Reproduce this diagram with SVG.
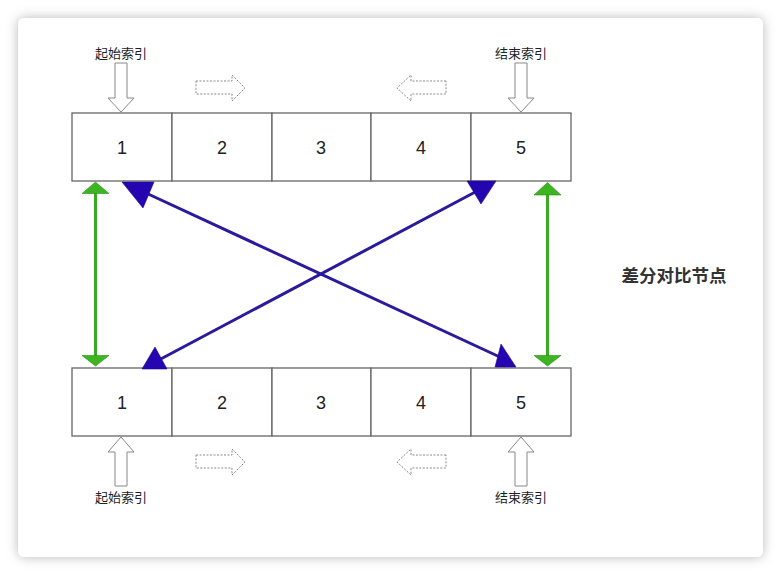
<svg xmlns="http://www.w3.org/2000/svg" width="781" height="575" viewBox="0 0 781 575">
  <defs>
    <filter id="shadow" x="-10%" y="-10%" width="120%" height="120%">
      <feDropShadow dx="0" dy="0" stdDeviation="6" flood-color="#000" flood-opacity="0.28"/>
    </filter>
    <style>
      .cell { fill: #ffffff; stroke: #666666; stroke-width: 1.3; }
      .num { font-family: "Liberation Sans", Arial, sans-serif; font-size: 18px; fill: #222222; text-anchor: middle; }
      .lbl { font-family: "Liberation Sans", "Noto Sans CJK SC", sans-serif; font-size: 13px; fill: #222222; text-anchor: middle; }
      .title { font-family: "Liberation Sans", "Noto Sans CJK SC", sans-serif; font-size: 17.5px; font-weight: bold; fill: #333333; text-anchor: middle; }
      .hollow { fill: #ffffff; stroke: #888888; stroke-width: 1; }
      .dashed { fill: #ffffff; stroke: #8a8a8a; stroke-width: 1; stroke-dasharray: 2 1.5; }
      .gline { stroke: #3aaa22; stroke-width: 3; fill: none; }
      .ghead { fill: #3db521; stroke: #2e8c1a; stroke-width: 0.6; }
      .bline { stroke: #2a1a9c; stroke-width: 3; fill: none; }
      .bhead { fill: #2405b0; stroke: #1e0a90; stroke-width: 0.6; }
    </style>
  </defs>
  <rect x="0" y="0" width="781" height="575" fill="#ffffff"/>
  <rect x="18" y="18" width="745" height="539" rx="6" fill="#ffffff" filter="url(#shadow)"/>

  <g id="top-row">
    <g id="t1"><rect class="cell" x="72" y="113" width="100" height="68"/><text class="num" x="122" y="154">1</text></g>
    <g id="t2"><rect class="cell" x="172" y="113" width="100" height="68"/><text class="num" x="222" y="154">2</text></g>
    <g id="t3"><rect class="cell" x="272" y="113" width="99" height="68"/><text class="num" x="321" y="154">3</text></g>
    <g id="t4"><rect class="cell" x="371" y="113" width="100" height="68"/><text class="num" x="421" y="154">4</text></g>
    <g id="t5"><rect class="cell" x="471" y="113" width="100" height="68"/><text class="num" x="521" y="154">5</text></g>
  </g>
  <g id="bottom-row">
    <g id="b1"><rect class="cell" x="72" y="368" width="100" height="68"/><text class="num" x="122" y="409">1</text></g>
    <g id="b2"><rect class="cell" x="172" y="368" width="100" height="68"/><text class="num" x="222" y="409">2</text></g>
    <g id="b3"><rect class="cell" x="272" y="368" width="99" height="68"/><text class="num" x="321" y="409">3</text></g>
    <g id="b4"><rect class="cell" x="371" y="368" width="100" height="68"/><text class="num" x="421" y="409">4</text></g>
    <g id="b5"><rect class="cell" x="471" y="368" width="100" height="68"/><text class="num" x="521" y="409">5</text></g>
  </g>

  <g id="index-markers">
    <g id="top-start">
      <text class="lbl" x="121" y="58">起始索引</text>
      <polygon class="hollow" points="115,63 127,63 127,98 134,98 121,112 108,98 115,98"/>
    </g>
    <g id="top-end">
      <text class="lbl" x="521" y="58">结束索引</text>
      <polygon class="hollow" points="515,63 527,63 527,98 534,98 521,112 508,98 515,98"/>
    </g>
    <g id="bottom-start">
      <text class="lbl" x="121" y="502">起始索引</text>
      <polygon class="hollow" points="115,486 127,486 127,452 134,452 121,437 108,452 115,452"/>
    </g>
    <g id="bottom-end">
      <text class="lbl" x="521" y="502">结束索引</text>
      <polygon class="hollow" points="515,486 527,486 527,452 534,452 521,437 508,452 515,452"/>
    </g>
    <g id="top-move-right"><polygon class="dashed" points="196,81 232,81 232,75 245,88 232,101 232,94 196,94"/></g>
    <g id="top-move-left"><polygon class="dashed" points="446,81 411,81 411,75 397,88 411,101 411,94 446,94"/></g>
    <g id="bottom-move-right"><polygon class="dashed" points="196,455 232,455 232,449 245,462 232,475 232,468 196,468"/></g>
    <g id="bottom-move-left"><polygon class="dashed" points="446,455 411,455 411,449 397,462 411,475 411,468 446,468"/></g>
  </g>

  <g id="label-diff"><text class="title" x="674" y="282">差分对比节点</text></g>

  <g id="connectors">
    <line class="gline" x1="95.5" y1="192" x2="95.5" y2="357"/>
    <polygon class="ghead" points="95.5,182 109,193.5 82,193.5"/>
    <polygon class="ghead" points="95.5,366 109,355.5 82,355.5"/>
    <line class="gline" x1="547.5" y1="193" x2="547.5" y2="357"/>
    <polygon class="ghead" points="547.5,182.5 561,195 534,195"/>
    <polygon class="ghead" points="547.5,366 561,355.5 534,355.5"/>

    <line class="bline" x1="146" y1="193" x2="502" y2="358"/>
    <polygon class="bhead" points="122,182 154,182 143,208"/>
    <polygon class="bhead" points="516,367 495,367 501,344"/>
    <line class="bline" x1="157" y1="361" x2="479" y2="190"/>
    <polygon class="bhead" points="142,369 167,369 155,347"/>
    <polygon class="bhead" points="496,181 467,181 481,204"/>
  </g>
</svg>
